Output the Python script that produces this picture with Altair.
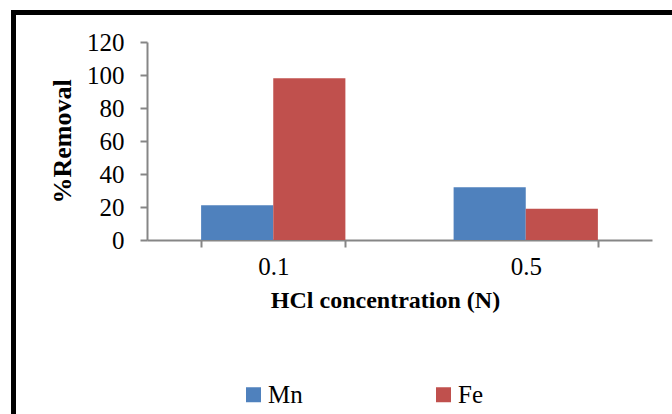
import altair as alt
import pandas as pd

categories = ["0.1", "0.5"]
series = ["Mn", "Fe"]
mn_values = [21, 32]
fe_values = [98, 19]
colors = ["#4F81BD", "#C0504D"]
y_ticks = [0, 20, 40, 60, 80, 100, 120]

rows = []
for i, c in enumerate(categories):
    rows.append({"conc": c, "metal": "Mn", "removal": mn_values[i]})
    rows.append({"conc": c, "metal": "Fe", "removal": fe_values[i]})
df = pd.DataFrame(rows)

FONT = "'Times New Roman', 'Liberation Serif', serif"
AX = "#868686"

bars = alt.Chart(df).mark_bar().encode(
    x=alt.X("conc:N", sort=categories,
            scale=alt.Scale(paddingInner=0.4286, paddingOuter=0.2143),
            axis=alt.Axis(title="HCl concentration (N)", labelAngle=0,
                          tickBand="extent", tickSize=7, tickColor=AX,
                          tickWidth=2, domainColor=AX, domainWidth=2,
                          labelFont=FONT, labelFontSize=25, labelColor="black",
                          labelPadding=7, titleFont=FONT, titleFontSize=24,
                          titleFontWeight="bold", titleColor="black",
                          titlePadding=9, titleX=238)),
    xOffset=alt.XOffset("metal:N", sort=series,
                        scale=alt.Scale(paddingInner=0, paddingOuter=0)),
    y=alt.Y("removal:Q",
            scale=alt.Scale(domain=[0, 120], nice=False),
            axis=alt.Axis(title="%Removal", values=y_ticks, grid=False,
                          tickSize=7, tickColor=AX, tickWidth=2,
                          domainColor=AX, domainWidth=2,
                          labelFont=FONT, labelFontSize=25, labelColor="black",
                          labelPadding=16, titleFont=FONT, titleFontSize=26,
                          titleFontWeight="bold", titleColor="black",
                          titlePadding=11)),
    color=alt.Color("metal:N", sort=series,
                    scale=alt.Scale(domain=series, range=colors),
                    legend=alt.Legend(title=None, orient="none",
                                      legendX=94, legendY=340,
                                      direction="horizontal", columns=2,
                                      columnPadding=128, padding=0,
                                      symbolType="square", symbolSize=225,
                                      symbolStrokeWidth=0, labelFont=FONT,
                                      labelFontSize=25, labelColor="black",
                                      labelOffset=2)),
)

frame = alt.Chart(pd.DataFrame({"a": [0]})).mark_rect(
    fill=None, stroke="black", strokeWidth=5
).encode(
    x=alt.value(-133.5), x2=alt.value(560),
    y=alt.value(-29.5), y2=alt.value(420),
)

chart = alt.layer(bars, frame).properties(
    width=505, height=198,
    padding={"left": 147, "top": 42, "right": 20, "bottom": 174},
    autosize=alt.AutoSizeParams(type="none"),
    background="white",
).configure_view(stroke=None)

chart.save("out.html", embed_options={"renderer": "svg", "actions": False})
